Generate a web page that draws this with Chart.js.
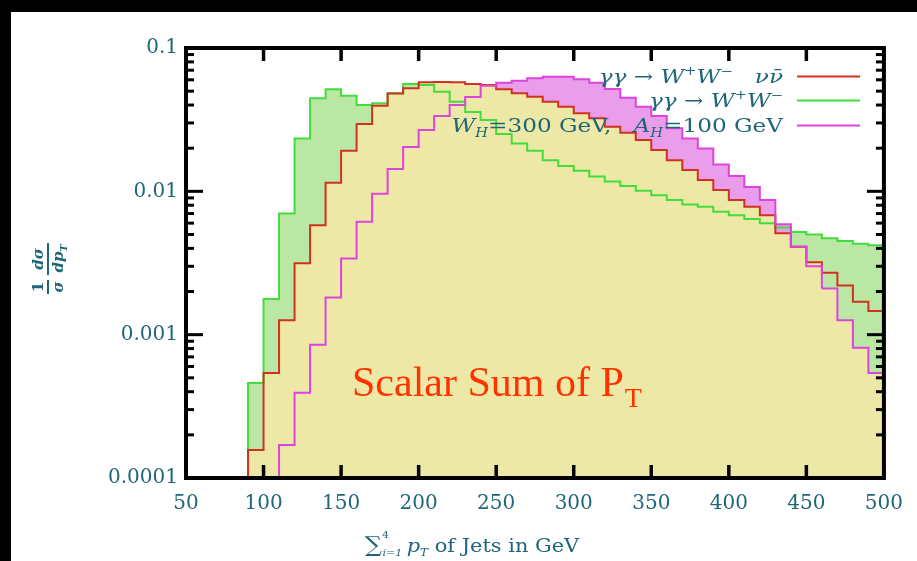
<!DOCTYPE html>
<html><head><meta charset="utf-8">
<script src="https://cdn.jsdelivr.net/npm/chart.js@4.4.1/dist/chart.umd.min.js"></script>
<style>html,body{margin:0;padding:0;background:#fff;overflow:hidden;width:917px;height:561px}
#c{display:block;position:fixed;left:0;top:0}</style>
</head><body>
<canvas id="c" width="917" height="561"></canvas>
<script>
// ---- data (bin lower edges in GeV, width 10 GeV) ----
const binStarts = [50,60,70,80,90,100,110,120,130,140,150,160,170,180,190,200,210,220,230,240,
  250,260,270,280,290,300,310,320,330,340,350,360,370,380,390,400,410,420,430,440,450,460,470,480,490];
const binEnd = 500;
const xTickValues = [50,100,150,200,250,300,350,400,450,500];
const xTickLabels = ['50','100','150','200','250','300','350','400','450','500'];
const yTickValues = [0.0001,0.001,0.01,0.1];
const yTickLabels = ['0.0001','0.001','0.01','0.1'];

// γγ → W+W- νν̄ (red)
const seriesWWnunu = [0,0,0,0,0.000157,0.00054,0.00126,0.00315,0.0058,0.0115,0.0192,0.0295,0.0396,0.0481,0.0523,0.0577,0.0580,0.0577,0.0561,0.0552,
  0.0515,0.0483,0.0457,0.0422,0.0389,0.0350,0.0323,0.0282,0.0256,0.0228,0.0194,0.0165,0.0141,0.0120,0.0102,0.0087,0.0078,0.0068,0.0051,0.0041,0.0032,0.0027,0.0022,0.0017,0.00146];
// γγ → W+W- (green)
const seriesWW = [0,0,0,0,0.00046,0.00177,0.0070,0.0234,0.0446,0.0515,0.0465,0.0400,0.0411,0.0483,0.0561,0.0552,0.0496,0.0422,0.0357,0.0315,
  0.0251,0.0216,0.0192,0.0165,0.0150,0.0139,0.0127,0.0117,0.0109,0.0101,0.0094,0.0087,0.0081,0.0078,0.0072,0.0068,0.0064,0.0060,0.0056,0.0052,0.0050,0.0047,0.0045,0.0043,0.0042];
// W_H=300 GeV, A_H=100 GeV (magenta)
const seriesHiggs = [0,0,0,0,0,0,0.00017,0.000394,0.00085,0.00182,0.0034,0.00614,0.0096,0.0143,0.0204,0.0268,0.0335,0.0400,0.0455,0.0545,
  0.0573,0.0591,0.0615,0.0631,0.0631,0.0605,0.0573,0.0518,0.0450,0.0389,0.0336,0.0275,0.0234,0.0199,0.0154,0.0128,0.0107,0.0087,0.0059,0.0041,0.0030,0.0021,0.00126,0.00081,0.00054];

const RED = '#cf3220', GREEN = '#42dc3c', MAG = '#dc44dc';
const YELLOW = '#eee8a6', LGREEN = '#bbe7a4', PINK = '#ea9dea';
const TEAL = '#1f6678';
const FLOOR = 1e-7;

function histPoints(vals) {
  const pts = binStarts.map((x, i) => ({x: x, y: vals[i] > 0 ? vals[i] : FLOOR}));
  pts.push({x: binEnd, y: FLOOR});
  return pts;
}

function drawRuns(ctx, runs, x, y, align, sx) {
  sx = sx || 1;
  let w = 0;
  for (const r of runs) { ctx.font = r.f; r.w = ctx.measureText(r.t).width + (r.gap || 0); w += r.w; }
  ctx.save();
  ctx.translate(x, y);
  ctx.scale(sx, 1);
  let cx = align === 'right' ? -w : align === 'center' ? -w / 2 : 0;
  for (const r of runs) { ctx.font = r.f; ctx.fillText(r.t, cx, r.dy || 0); cx += r.w; }
  ctx.restore();
}

const decor = {
  id: 'decor',
  beforeDraw(chart) {
    const c = chart.ctx;
    c.save();
    c.fillStyle = '#fff'; c.fillRect(0, 0, chart.width, chart.height);
    c.fillStyle = '#000';
    c.fillRect(0, 0, chart.width, 12);
    c.fillRect(0, 0, 11, chart.height);
    c.restore();
  },
  afterDatasetsDraw(chart) {
    const {ctx, chartArea: a, scales: {x, y}} = chart;
    ctx.save();
    ctx.strokeStyle = '#000';
    ctx.lineWidth = 3.5;
    ctx.lineCap = 'butt';
    const seg = (x1, y1, x2, y2) => { ctx.beginPath(); ctx.moveTo(x1, y1); ctx.lineTo(x2, y2); ctx.stroke(); };
    for (const v of xTickValues) {
      const px = x.getPixelForValue(v);
      seg(px, a.bottom, px, a.bottom - 13);
      seg(px, a.top, px, a.top + 13);
    }
    ctx.lineWidth = 3;
    for (let i = 0; i < yTickValues.length; i++) {
      const d = yTickValues[i];
      const mults = i < yTickValues.length - 1 ? [1,2,3,4,5,6,7,8,9] : [1];
      for (const m of mults) {
        const py = y.getPixelForValue(m * d);
        const len = m === 1 ? 17 : 8;
        seg(a.left, py, a.left + len, py);
        seg(a.right, py, a.right - len, py);
      }
    }
    ctx.lineWidth = 4;
    ctx.strokeRect(a.left, a.top, a.right - a.left, a.bottom - a.top);
    ctx.restore();
  },
  afterDraw(chart) {
    const ctx = chart.ctx;
    const ds = chart.data.datasets;
    ctx.save();
    ctx.fillStyle = TEAL;
    ctx.textBaseline = 'alphabetic';
    const F = '19px "DejaVu Serif"', I = 'italic 19px "DejaVu Serif"', S = '12px "DejaVu Serif"', SI = 'italic 12px "DejaVu Serif"';
    // legend
    const rows = [
      {runs: [{t: 'γγ', f: I}, {t: ' → ', f: F}, {t: 'W', f: I}, {t: '+', f: S, dy: -8}, {t: 'W', f: I}, {t: '−', f: S, dy: -8}, {t: '   ', f: F}, {t: 'νν̄', f: I}], y: 83, color: ds[1].borderColor},
      {runs: [{t: 'γγ', f: I}, {t: ' → ', f: F}, {t: 'W', f: I}, {t: '+', f: S, dy: -8}, {t: 'W', f: I}, {t: '−', f: S, dy: -8}], y: 107, color: ds[2].borderColor},
      {runs: [{t: 'W', f: I}, {t: 'H', f: SI, dy: 5}, {t: '=300 GeV,   ', f: F}, {t: 'A', f: I}, {t: 'H', f: SI, dy: 5}, {t: '=100 GeV', f: F}], y: 132, color: ds[0].borderColor}
    ];
    for (const r of rows) {
      ctx.fillStyle = TEAL;
      drawRuns(ctx, r.runs, 783, r.y, 'right', 1.22);
      ctx.strokeStyle = r.color; ctx.lineWidth = 2;
      ctx.beginPath(); ctx.moveTo(797, r.y - 6.5); ctx.lineTo(860, r.y - 6.5); ctx.stroke();
    }
    // x-axis title
    ctx.fillStyle = TEAL;
    drawRuns(ctx, [
      {t: '∑', f: '22px "DejaVu Serif"'},
      {t: '4', f: '10px "DejaVu Serif"', dy: -14, gap: -6},
      {t: 'i=1', f: 'italic 10px "DejaVu Serif"', dy: 4, gap: 4},
      {t: 'p', f: 'italic 19px "DejaVu Serif"'},
      {t: 'T', f: 'italic 11px "DejaVu Serif"', dy: 4},
      {t: ' of Jets in GeV', f: '19px "DejaVu Serif"'}
    ], 472, 552, 'center', 1.1);
    // y-axis title (rotated fraction)
    ctx.save();
    ctx.translate(48, 266);
    ctx.rotate(-Math.PI / 2);
    ctx.fillStyle = TEAL;
    ctx.textAlign = 'center';
    ctx.font = 'bold 15px "DejaVu Serif"';
    ctx.fillText('1', -21, -5);
    ctx.font = 'italic bold 15px "DejaVu Serif"';
    ctx.fillText('σ', -21, 15);
    ctx.fillText('dσ', 7, -5);
    ctx.fillText('dp', 4, 15);
    ctx.font = 'italic bold 10px "DejaVu Serif"';
    ctx.fillText('T', 18, 19);
    ctx.fillRect(-28, -1, 14, 2);
    ctx.fillRect(-9, -1, 32, 2);
    ctx.restore();
    // annotation
    ctx.fillStyle = '#ff3300';
    ctx.textAlign = 'left';
    ctx.font = '42px "Liberation Serif"';
    ctx.fillText('Scalar Sum of P', 352, 396);
    const w = ctx.measureText('Scalar Sum of P').width;
    ctx.font = '28px "Liberation Serif"';
    ctx.fillText('T', 352 + w + 1, 407);
    ctx.restore();
  }
};

new Chart(document.getElementById('c'), {
  type: 'line',
  data: {
    datasets: [
      {
        label: 'W_H=300 GeV, A_H=100 GeV',
        data: histPoints(seriesHiggs),
        borderColor: MAG, backgroundColor: PINK, borderWidth: 2,
        stepped: true, pointRadius: 0,
        fill: {target: 1, above: PINK, below: 'rgba(0,0,0,0)'},
        segment: {
          backgroundColor: c => {
            const i = c.p0DataIndex;
            if (i < binStarts.length && binStarts[i] >= 460 && seriesHiggs[i] < seriesWWnunu[i]) return LGREEN;
            return undefined;
          }
        }
      },
      {
        label: 'γγ → W⁺W⁻ νν̄',
        data: histPoints(seriesWWnunu),
        borderColor: RED, backgroundColor: YELLOW, borderWidth: 2,
        stepped: true, pointRadius: 0, fill: 'start'
      },
      {
        label: 'γγ → W⁺W⁻',
        data: histPoints(seriesWW),
        borderColor: GREEN, backgroundColor: LGREEN, borderWidth: 2,
        stepped: true, pointRadius: 0, fill: 'start'
      }
    ]
  },
  options: {
    responsive: false,
    animation: false,
    devicePixelRatio: 1,
    layout: {padding: {left: 0, right: 32, top: 48, bottom: 0}},
    plugins: {
      legend: {display: false},
      tooltip: {enabled: false},
      filler: {drawTime: 'beforeDatasetsDraw'}
    },
    scales: {
      x: {
        type: 'linear', min: 50, max: 500,
        grid: {display: false, drawTicks: false},
        border: {display: false},
        afterFit: s => { s.height = 83; },
        afterBuildTicks: s => { s.ticks = xTickValues.map(v => ({value: v})); },
        ticks: {
          autoSkip: false, maxRotation: 0, padding: 14, color: TEAL,
          font: {family: 'DejaVu Serif', size: 20},
          callback: v => { const i = xTickValues.indexOf(v); return i >= 0 ? xTickLabels[i] : ''; }
        }
      },
      y: {
        type: 'logarithmic', min: 0.0001, max: 0.1,
        grid: {display: false, drawTicks: false},
        border: {display: false},
        afterFit: s => { s.width = 186; },
        afterBuildTicks: s => { s.ticks = yTickValues.map(v => ({value: v})); },
        ticks: {
          autoSkip: false, padding: 8, color: TEAL,
          font: {family: 'DejaVu Serif', size: 20},
          callback: v => {
            const i = yTickValues.findIndex(t => Math.abs(Math.log10(t) - Math.log10(v)) < 1e-6);
            return i >= 0 ? yTickLabels[i] : '';
          }
        }
      }
    }
  },
  plugins: [decor]
});
</script>
</body></html>
